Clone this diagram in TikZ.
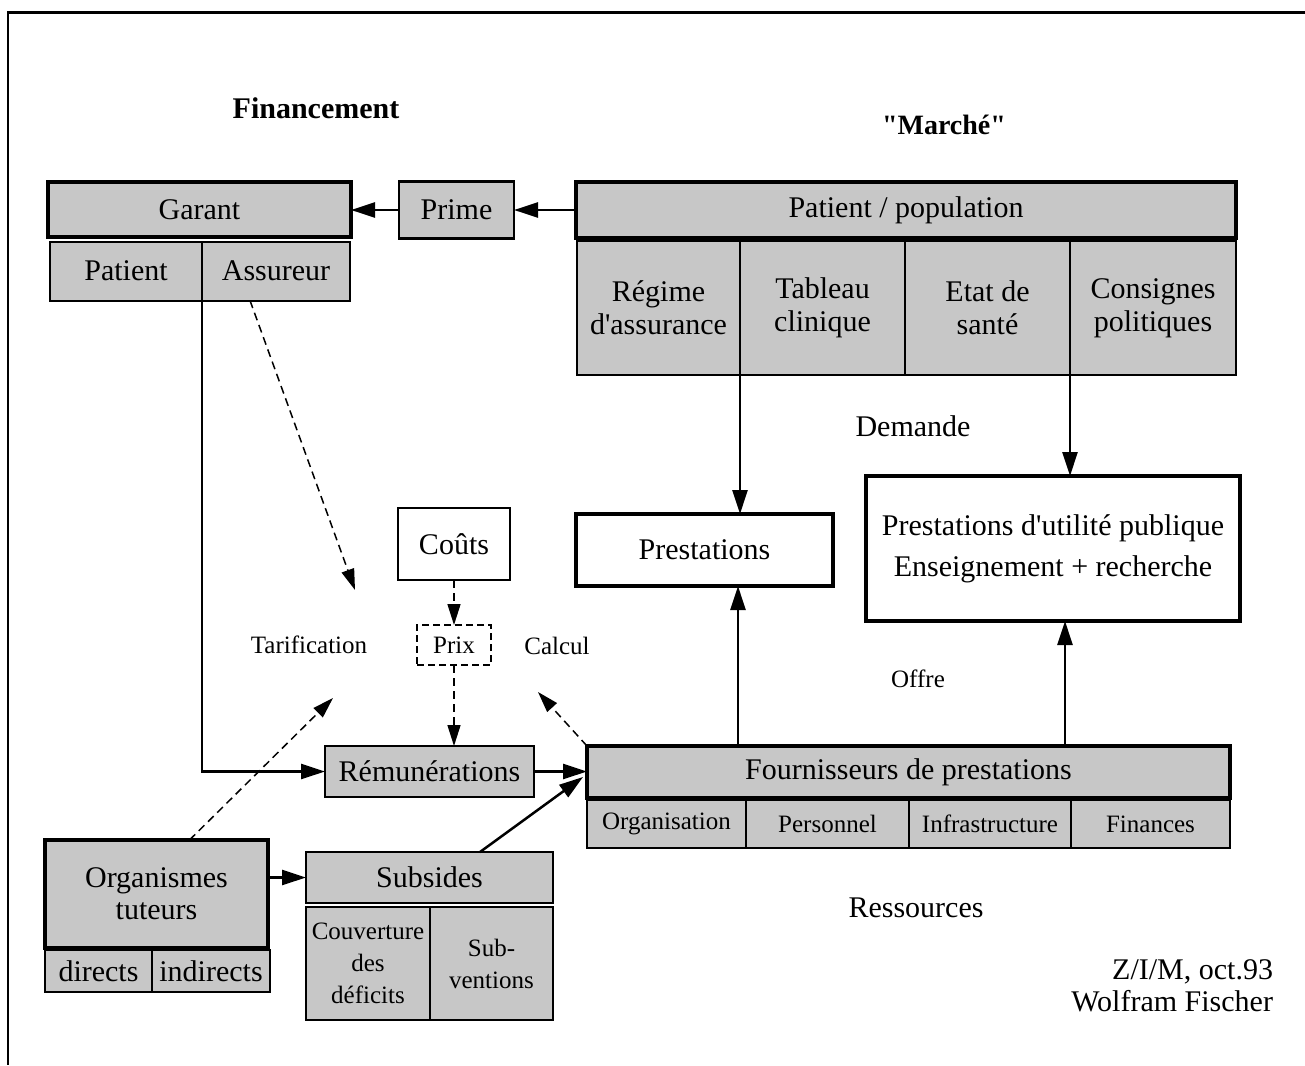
\documentclass[tikz,border=0pt]{standalone}
\usepackage{fontspec}
\setmainfont{Liberation Serif}
\usetikzlibrary{arrows.meta}
\begin{document}
\begin{tikzpicture}[x=1pt,y=-1pt,
  every node/.style={inner sep=0pt, outer sep=0pt, align=center},
  big/.style={font=\fontsize{30}{33}\selectfont},
  small/.style={font=\fontsize{25}{32}\selectfont},
  shadethick/.style={big, draw, line width=4.5pt, fill=black!22},
  shadethin/.style={big, draw, line width=2.5pt, fill=black!22},
  cellbox/.style={big, draw, line width=2pt, fill=black!22},
  whitethick/.style={big, draw, line width=4.5pt, fill=white},
  whitethin/.style={big, draw, line width=2.5pt, fill=white},
  dashbox/.style={small, draw, line width=2pt, dash pattern=on 7pt off 4pt},
  arr/.style={line width=2.5pt, -{Triangle[length=24pt,width=15pt]}},
  darr/.style={line width=1.5pt, dash pattern=on 8pt off 5pt, -{Triangle[length=21pt,width=13pt]}}
]
\useasboundingbox (0,0) rectangle (1305,1065);
% frame
\draw[line width=3pt] (7,13) -- (1305,13);
\draw[line width=2pt] (8,13) -- (8,1065);

% titles
\node[font=\fontsize{30}{33}\selectfont\bfseries] (fin) at (316,108) {Financement};
\node[font=\fontsize{28}{33}\selectfont\bfseries] (mar) at (944,125) {\textquotedbl Marché\textquotedbl};

% Financement side
\node[shadethick, minimum width=303, minimum height=55] (garant) at (199.5,209.5) {Garant};
\node[cellbox, minimum width=152, minimum height=59] (patg) at (126,271) {Patient};
\node[cellbox, minimum width=148, minimum height=59] (assur) at (276,271) {Assureur};
\node[shadethin, minimum width=115, minimum height=57] (prime) at (456.5,210) {Prime};

% Marche side
\node[shadethick, minimum width=660, minimum height=56] (patpop) at (906,210) {Patient / population};
\node[cellbox, minimum width=163, minimum height=134] (regime) at (658.5,308) {Régime\\d\textquotesingle assurance};
\node[cellbox, minimum width=165, minimum height=134] (tableau) at (822.5,308) {Tableau\\clinique};
\node[cellbox, minimum width=165, minimum height=134] (etat) at (987.5,308) {Etat de\\santé};
\node[cellbox, minimum width=166, minimum height=134] (consignes) at (1153,308) {Consignes\\politiques};

\node[big] (demande) at (913,426) {Demande};

\node[whitethick, minimum width=257, minimum height=72] (prest) at (704.5,550) {Prestations};
\node[whitethick, minimum width=374, minimum height=145, font=\fontsize{30}{41}\selectfont] (pup) at (1053,548.5) {Prestations d\textquotesingle utilité publique\\Enseignement + recherche};

% price
\node[whitethin, minimum width=112, minimum height=72] (couts) at (454,544) {Coûts};
\node[dashbox, minimum width=74, minimum height=40] (prix) at (454,645) {Prix};
\node[small] (tarif) at (309,645) {Tarification};
\node[small] (calcul) at (557,646) {Calcul};
\node[small] (offre) at (918,679) {Offre};

\node[shadethin, minimum width=209, minimum height=51] (remun) at (429.5,771.5) {Rémunérations};

% Fournisseurs
\node[shadethick, minimum width=643, minimum height=52] (fourn) at (908.5,772) {Fournisseurs de prestations};
\node[cellbox, small, minimum width=159, minimum height=48] (orga) at (666.5,824) {Organisation};
\node[cellbox, small, minimum width=163, minimum height=48] (pers) at (827.5,824) {Personnel};
\node[cellbox, small, minimum width=162, minimum height=48] (infra) at (990,824) {Infrastructure};
\node[cellbox, small, minimum width=159, minimum height=48] (finan) at (1150.5,824) {Finances};

\node[big] (ress) at (916,908) {Ressources};

% Organismes
\node[shadethick, minimum width=223, minimum height=108, font=\fontsize{30}{32}\selectfont] (orgtut) at (156.5,894) {Organismes\\tuteurs};
\node[cellbox, minimum width=107, minimum height=42] (directs) at (98.5,971) {directs};
\node[cellbox, minimum width=118, minimum height=42] (indirects) at (211,971) {indirects};

\node[shadethin, minimum width=247, minimum height=51] (subs) at (429.5,877.5) {Subsides};
\node[cellbox, small, minimum width=124, minimum height=113] (couv) at (368,963.5) {Couverture\\des\\déficits};
\node[cellbox, small, minimum width=123, minimum height=113] (subv) at (491.5,963.5) {Sub-\\ventions};

\node[big, align=right, anchor=east, font=\fontsize{30}{32}\selectfont] (sign) at (1273,986) {Z/I/M, oct.93\\Wolfram Fischer};

% helper coordinates
\coordinate (xa) at (738,0);
\coordinate (xb) at (1065,0);
\coordinate (tarifA) at (355,590);
\coordinate (tarifB) at (333,698);
\coordinate (calcA) at (538,692);

% solid arrows
\draw[arr] (patpop.west) -- (prime.east);
\draw[arr] (prime.west) -- (prime.west -| garant.east);
\draw[arr] (regime.south east) -- (regime.south east |- prest.north);
\draw[arr] (etat.south east) -- (etat.south east |- pup.north);
\draw[arr] (fourn.north -| xa) -- (prest.south -| xa);
\draw[arr] (fourn.north -| xb) -- (pup.south -| xb);
\draw[arr] (assur.south west) -- (assur.south west |- remun.west) -- (remun.west);
\draw[arr] (remun.east) -- (remun.east -| fourn.west);
\draw[arr] (orgtut.east |- subs.west) -- (subs.west);
\draw[arr] ([xshift=-73pt]subs.north east) -- ([xshift=-4pt,yshift=-5pt]fourn.west);

% dashed arrows
\draw[darr] ([xshift=-26pt]assur.south) -- (tarifA);
\draw[darr] (couts.south) -- (prix.north);
\draw[darr] (prix.south) -- (prix.south |- remun.north);
\draw[darr] ([xshift=33pt]orgtut.north) -- (tarifB);
\draw[darr] (fourn.north west) -- (calcA);
\end{tikzpicture}
\end{document}
